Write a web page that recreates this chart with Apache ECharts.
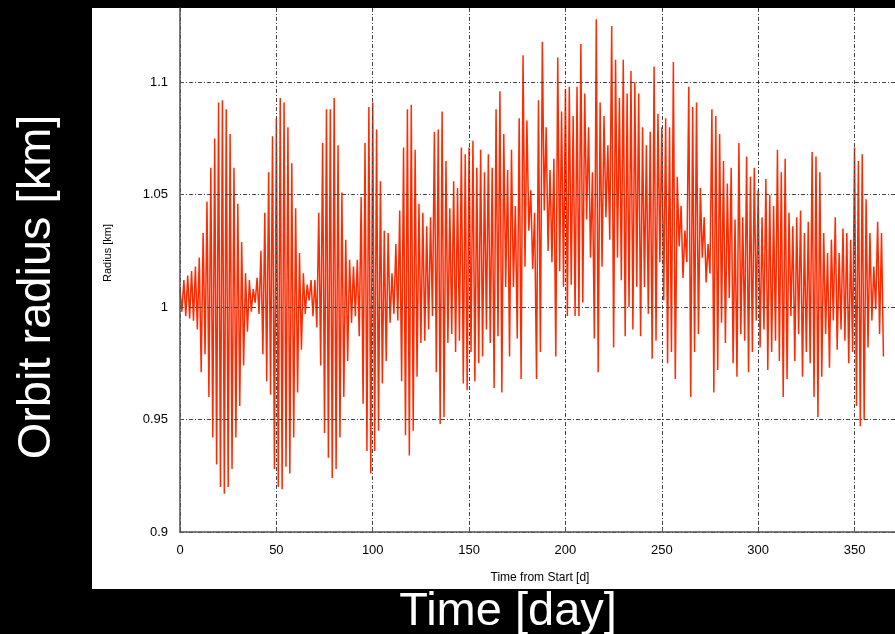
<!DOCTYPE html>
<html>
<head>
<meta charset="utf-8">
<script src="https://cdn.jsdelivr.net/npm/echarts@6/dist/echarts.min.js"></script>
<style>
  html, body { margin: 0; padding: 0; background: #000; }
  #chart { width: 895px; height: 634px; }
</style>
</head>
<body>
<div id="chart"></div>
<script>
// orbit radius [km], one sample per day (day 0 .. 365)
const radius = [
  1.008, 0.998, 1.012, 0.996, 1.014, 0.995, 1.016, 0.994, 1.018, 0.990,
  1.022, 0.971, 1.033, 0.979, 1.047, 0.960, 1.062, 0.942, 1.075, 0.930,
  1.091, 0.920, 1.092, 0.917, 1.088, 0.920, 1.077, 0.928, 1.062, 0.942,
  1.046, 0.956, 1.029, 0.974, 1.015, 0.989, 1.012, 0.998, 1.008, 1.002,
  1.013, 0.997, 1.025, 0.979, 1.042, 0.967, 1.060, 0.961, 1.076, 0.928,
  1.084, 0.920, 1.093, 0.919, 1.091, 0.929, 1.080, 0.926, 1.064, 0.942,
  1.044, 0.962, 1.024, 0.981, 1.015, 0.997, 1.010, 1.003, 1.012, 0.996,
  1.012, 0.991, 1.042, 0.974, 1.073, 0.944, 1.088, 0.933, 1.088, 0.924,
  1.093, 0.928, 1.072, 0.942, 1.051, 0.960, 1.030, 0.976, 1.021, 0.993,
  1.018, 0.996, 1.021, 0.987, 1.049, 0.957, 1.073, 0.936, 1.089, 0.926,
  1.091, 0.936, 1.079, 0.945, 1.056, 0.966, 1.034, 0.976, 1.033, 0.993,
  1.015, 0.997, 1.028, 0.994, 1.043, 0.967, 1.071, 0.943, 1.088, 0.934,
  1.090, 0.945, 1.070, 0.969, 1.046, 0.984, 1.042, 0.985, 1.036, 0.990,
  1.040, 0.996, 1.078, 0.971, 1.079, 0.948, 1.087, 0.951, 1.065, 0.984,
  1.044, 0.988, 1.056, 0.980, 1.053, 0.985, 1.071, 0.966, 1.068, 0.963,
  1.071, 0.980, 1.074, 0.967, 1.062, 0.975, 1.070, 0.978, 1.060, 0.990,
  1.068, 0.984, 1.062, 0.964, 1.088, 0.987, 1.096, 0.962, 1.077, 1.009,
  1.061, 0.978, 1.070, 1.009, 1.045, 0.986, 1.084, 0.968, 1.112, 1.018,
  1.083, 1.034, 1.052, 1.017, 1.042, 0.968, 1.092, 0.980, 1.118, 1.043,
  1.080, 1.025, 1.061, 1.020, 1.066, 0.978, 1.111, 1.016, 1.087, 1.009,
  1.097, 0.996, 1.098, 1.010, 1.085, 0.996, 1.098, 0.996, 1.117, 1.002,
  1.095, 1.039, 1.080, 1.022, 1.060, 0.986, 1.128, 0.971, 1.091, 1.018,
  1.085, 1.040, 1.072, 1.030, 1.125, 0.982, 1.110, 1.022, 1.093, 1.012,
  1.110, 0.987, 1.095, 1.000, 1.105, 0.990, 1.100, 1.009, 1.095, 0.987,
  1.080, 1.009, 1.072, 0.997, 1.078, 0.977, 1.107, 0.985, 1.086, 1.020,
  1.080, 1.003, 1.084, 0.975, 1.080, 0.980, 1.109, 0.968, 1.058, 1.027,
  1.045, 1.013, 1.034, 1.020, 1.098, 0.960, 1.089, 0.980, 1.091, 0.988,
  1.053, 1.022, 1.040, 1.011, 1.028, 1.015, 1.088, 0.962, 1.085, 0.972,
  1.077, 0.993, 1.065, 0.984, 1.055, 1.004, 1.062, 0.975, 1.039, 0.969,
  1.073, 0.988, 1.040, 0.985, 1.067, 0.971, 1.058, 0.980, 1.062, 0.994,
  1.052, 0.982, 1.040, 0.990, 1.057, 0.972, 1.050, 0.980, 1.045, 0.985,
  1.070, 0.976, 1.060, 0.960, 1.066, 0.968, 1.042, 0.996, 1.036, 0.976,
  1.040, 0.988, 1.043, 0.969, 1.033, 0.980, 1.038, 0.975, 1.069, 0.960,
  1.067, 0.951, 1.060, 0.969, 1.033, 0.988, 1.024, 0.973, 1.030, 0.994,
  1.040, 0.981, 1.024, 0.990, 1.035, 0.985, 1.033, 0.975, 1.030, 0.980,
  1.071, 0.956, 1.065, 0.947, 1.068, 0.950, 1.048, 0.982, 1.033, 0.994,
  1.018, 0.999, 1.038, 0.988, 1.033, 0.978
];
const xTicks = [0, 50, 100, 150, 200, 250, 300, 350];
const yTicks = [0.9, 0.95, 1, 1.05, 1.1];

const myChart = echarts.init(document.getElementById('chart'));

// dash-dot grid, drawn above the curve like in the original plot
const gridLine = {
  show: true, showMaxLine: false,
  lineStyle: { color: '#444', width: 1, type: [4, 2, 1, 2] }
};

const option = {
  backgroundColor: '#000',
  animation: false,
  graphic: [
    { type: 'rect', z: -10, shape: { x: 92, y: 8, width: 803, height: 581 }, style: { fill: '#fff' } },
    { type: 'text', x: 108, y: 253, rotation: Math.PI / 2,
      style: { text: 'Radius [km]', fill: '#000', font: '11px "Liberation Sans"', align: 'center', verticalAlign: 'middle' } },
    { type: 'text', x: 540, y: 578,
      style: { text: 'Time from Start [d]', fill: '#000', font: '12px "Liberation Sans"', align: 'center', verticalAlign: 'middle' } },
    { type: 'text', x: 37, y: 287, rotation: Math.PI / 2,
      style: { text: 'Orbit radius [km]', fill: '#fff', font: '47px "Liberation Sans"', align: 'center', verticalAlign: 'middle' } },
    { type: 'text', x: 508, y: 612,
      style: { text: 'Time [day]', fill: '#fff', font: '47px "Liberation Sans"', align: 'center', verticalAlign: 'middle' } }
  ],
  grid: { left: 180, right: 0, top: 8, bottom: 102 },
  xAxis: {
    type: 'value', min: 0, max: 371, interval: 50, z: 3,
    axisLine: { show: true, lineStyle: { color: '#555', width: 1.5 } },
    axisTick: { show: true, inside: true, length: 4, lineStyle: { color: '#555' } },
    splitLine: gridLine,
    axisLabel: {
      color: '#000', fontSize: 13, fontFamily: 'Liberation Sans', margin: 12,
      showMaxLabel: false,
      formatter: v => xTicks.includes(v) ? String(v) : ''
    }
  },
  yAxis: {
    type: 'value', min: 0.9, max: 1.133, interval: 0.05, z: 3,
    axisLine: { show: true, lineStyle: { color: '#555', width: 1.5 } },
    axisTick: { show: true, inside: true, length: 4, lineStyle: { color: '#555' } },
    splitLine: gridLine,
    axisLabel: {
      color: '#000', fontSize: 13, fontFamily: 'Liberation Sans', margin: 12,
      showMaxLabel: false,
      formatter: v => {
        const t = yTicks.find(k => Math.abs(k - v) < 1e-6);
        return t === undefined ? '' : String(t);
      }
    }
  },
  series: [{
    type: 'line',
    data: radius.map((r, day) => [day, r]),
    showSymbol: false,
    lineStyle: { color: '#ff2a00', width: 1.5 },
    z: 2
  }]
};

myChart.setOption(option);
</script>
</body>
</html>
